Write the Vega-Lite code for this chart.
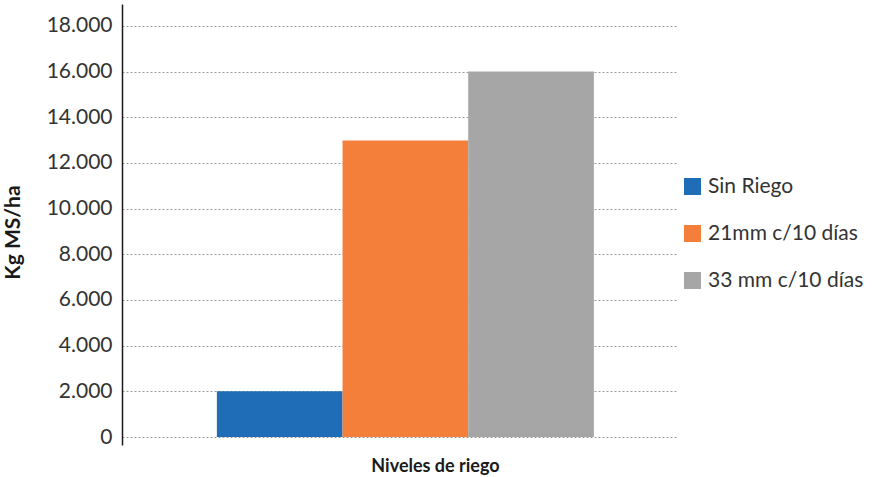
{
  "$schema": "https://vega.github.io/schema/vega-lite/v6.json",
  "width": 556,
  "height": 441,
  "padding": {"left": 122, "top": 4, "right": 194, "bottom": 32},
  "autosize": {"type": "none"},
  "background": "white",
  "config": {
    "view": {"stroke": null},
    "font": "Lato",
    "axis": {"labelFont": "Lato", "titleFont": "Lato"}
  },
  "data": {
    "values": [
      {"grupo": "Niveles de riego", "serie": "Sin Riego", "orden": 1, "valor": 2000},
      {"grupo": "Niveles de riego", "serie": "21mm c/10 días", "orden": 2, "valor": 12980},
      {"grupo": "Niveles de riego", "serie": "33 mm c/10 días", "orden": 3, "valor": 16000}
    ]
  },
  "mark": {"type": "bar"},
  "encoding": {
    "x": {
      "field": "grupo",
      "type": "nominal",
      "scale": {"paddingInner": 0, "paddingOuter": 0.2374, "align": 0.53},
      "axis": {
        "title": "Niveles de riego",
        "labels": false,
        "ticks": false,
        "domain": false,
        "titleFontSize": 18,
        "titleFontWeight": "bold",
        "titleColor": "#1a1a1a",
        "titlePadding": 12,
        "titleX": 313
      }
    },
    "xOffset": {"field": "serie", "type": "nominal", "sort": ["Sin Riego", "21mm c/10 días", "33 mm c/10 días"], "scale": {"paddingInner": 0, "paddingOuter": 0}},
    "y": {
      "field": "valor",
      "type": "quantitative",
      "scale": {"domain": [-350, 18960], "nice": false, "zero": false},
      "axis": {
        "title": "Kg MS/ha",
        "values": [0, 2000, 4000, 6000, 8000, 10000, 12000, 14000, 16000, 18000],
        "labelExpr": "replace(format(datum.value, ','), ',', '.')",
        "labelFontSize": 21,
        "labelColor": "#333333",
        "labelPadding": 10,
        "ticks": false,
        "domainColor": "#1a1a1a",
        "domainWidth": 1.5,
        "grid": true,
        "gridColor": "#9a9a9a",
        "gridDash": [2, 2],
        "gridWidth": 1,
        "titleFontSize": 21,
        "titleFontWeight": "bold",
        "titleColor": "#1a1a1a",
        "titlePadding": 23,
        "titleY": 228
      }
    },
    "color": {
      "field": "serie",
      "type": "nominal",
      "sort": ["Sin Riego", "21mm c/10 días", "33 mm c/10 días"],
      "scale": {"domain": ["Sin Riego", "21mm c/10 días", "33 mm c/10 días"], "range": ["#1e6db6", "#f37f3a", "#a6a6a6"]},
      "legend": {
        "title": null,
        "orient": "none",
        "legendX": 560,
        "legendY": 172,
        "symbolType": "square",
        "symbolSize": 289,
        "symbolStrokeWidth": 0,
        "labelFontSize": 21,
        "labelLimit": 300,
        "labelColor": "#333333",
        "labelOffset": 5,
        "rowPadding": 25
      }
    }
  }
}
